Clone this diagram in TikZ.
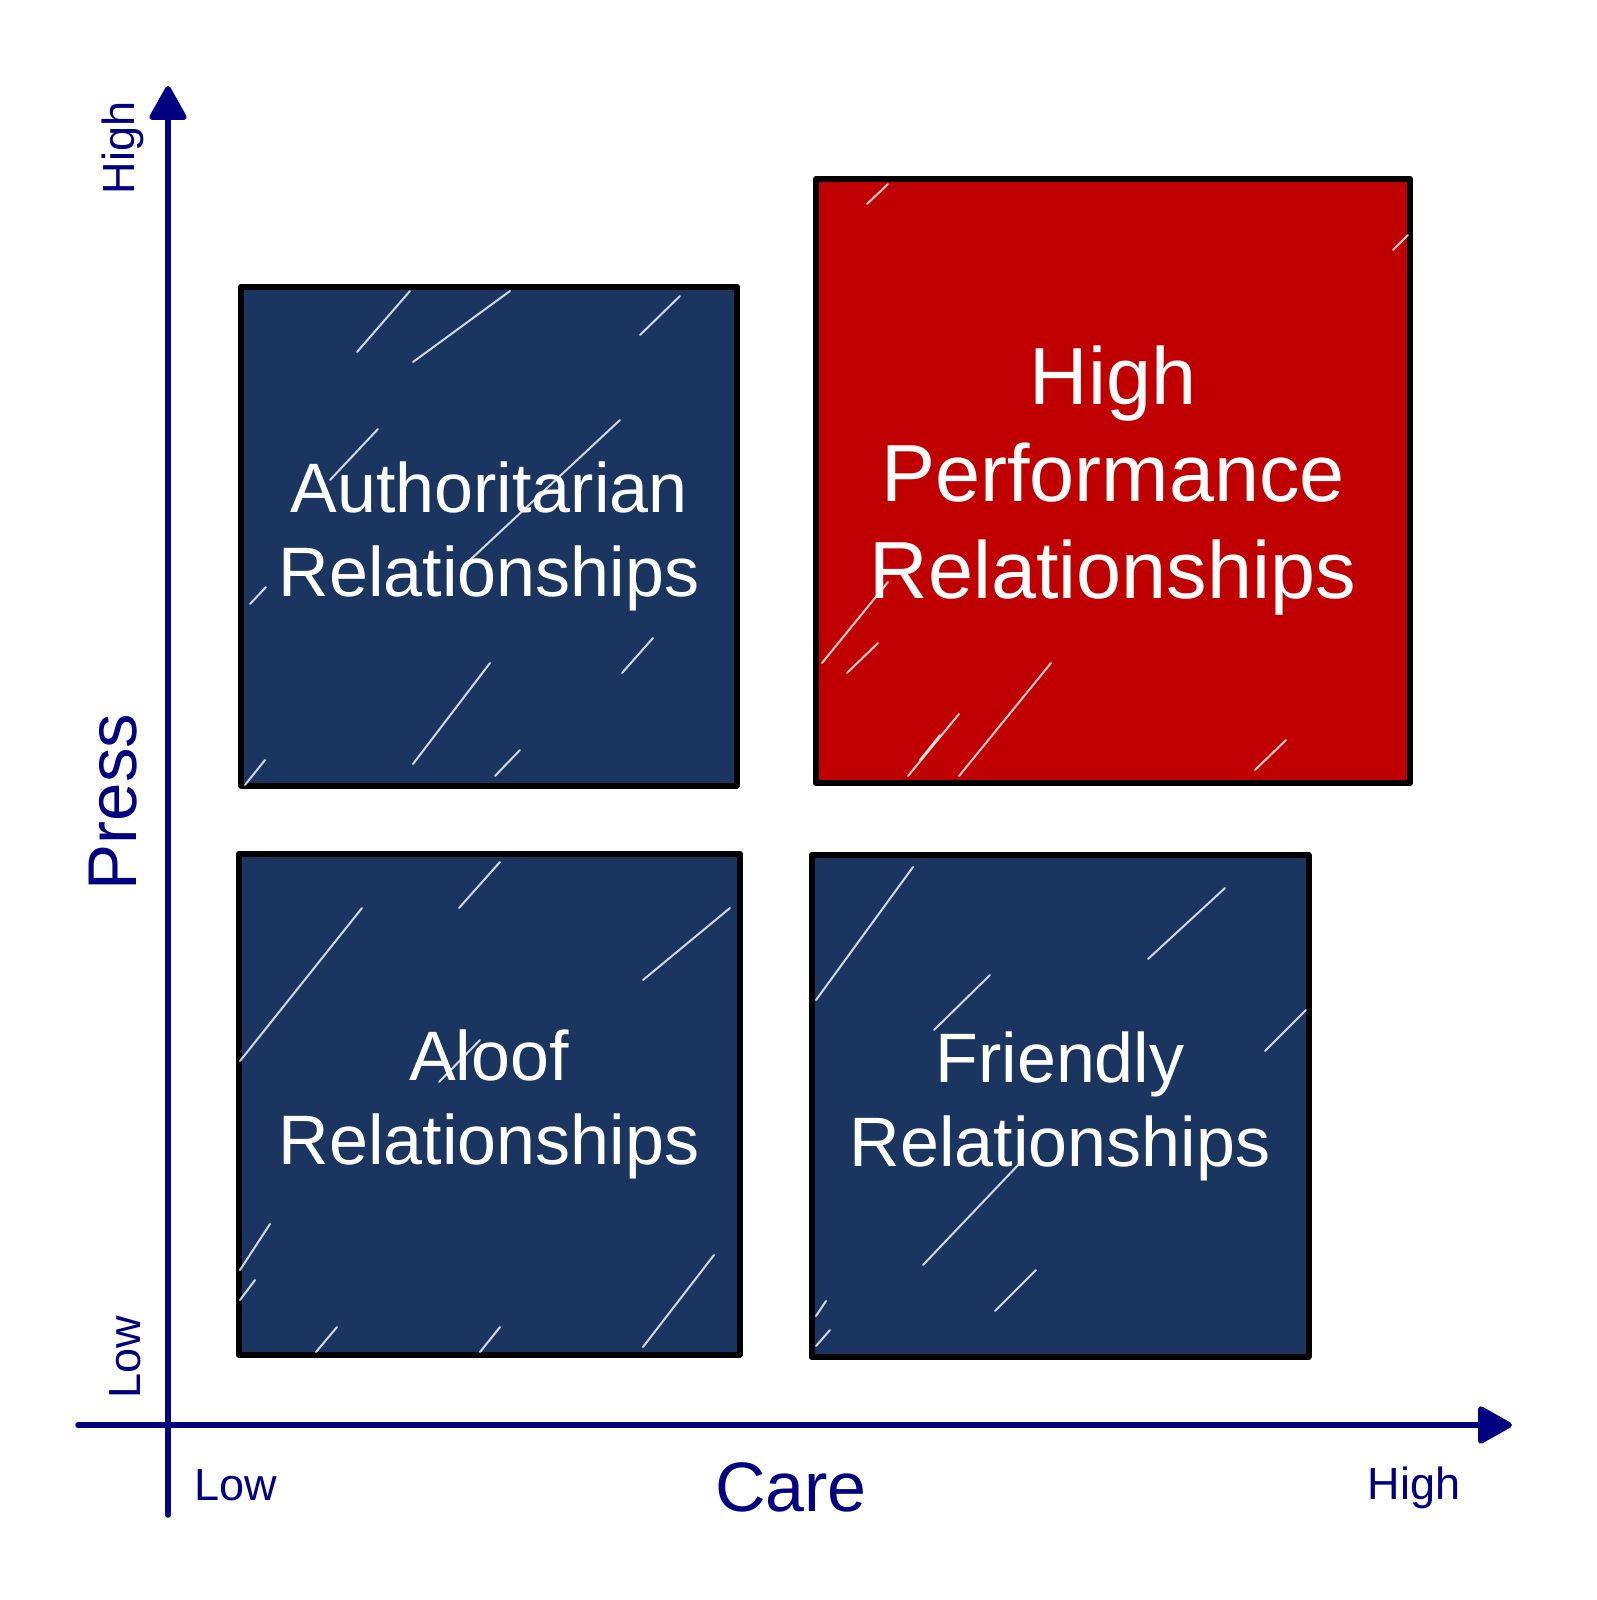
\documentclass[tikz,border=0pt]{standalone}
\usepackage{fontspec}
\setmainfont{Liberation Sans}
\usetikzlibrary{arrows.meta, positioning, calc}
\definecolor{axisnavy}{RGB}{0,0,128}
\definecolor{quadblue}{RGB}{26,54,96}
\definecolor{quadred}{RGB}{192,0,0}
\newcommand{\boxfont}{\fontsize{70}{84}\selectfont}
\newcommand{\bigboxfont}{\fontsize{81}{97}\selectfont}

\begin{document}
\begin{tikzpicture}[x=1pt, y=-1pt,
  quadrant/.style={draw=black, line width=6pt, line join=round, text=white, align=center, inner sep=0pt},
  axis/.style={draw=axisnavy, line width=5.5pt, line cap=round, -{Triangle[length=37pt, width=40pt, round]}},
  axislabel/.style={text=axisnavy, inner sep=0pt}]
\useasboundingbox (0,0) rectangle (1597,1600);

% the four quadrants
\node[quadrant, fill=quadblue, font=\boxfont, minimum width=496pt, minimum height=499pt] (auth) at (489,536)
     {Authoritarian\\Relationships};
\node[quadrant, fill=quadred, font=\bigboxfont, minimum width=594pt, minimum height=604pt] (perf) at (1113,481)
     {High\\Performance\\Relationships};
\node[quadrant, fill=quadblue, font=\boxfont, minimum width=501pt, minimum height=501pt] (aloof) at (489,1104)
     {Aloof\\Relationships};
\node[quadrant, fill=quadblue, font=\boxfont, minimum width=497pt, minimum height=502pt] (friendly) at (1060,1106)
     {Friendly\\Relationships};

% chalk scratches
\foreach \xa/\ya/\xb/\yb in {413/362/510/291, 357/352/410/291, 640/335/680/296, 250/604/266/587,
    245/785/265/760, 413/764/490/663, 495/776/520/750, 622/673/653/638, 330/480/378/429, 470/560/620/420}
  \draw[white, line width=2pt, line cap=round, opacity=0.8] (\xa,\ya) -- (\xb,\yb);
\foreach \xa/\ya/\xb/\yb in {822/663/888/582, 847/673/878/643, 959/776/1051/663, 908/776/959/714,
    1255/770/1286/740, 867/204/888/184, 1393/250/1408/235, 920/760/940/735}
  \draw[white, line width=2pt, line cap=round, opacity=0.8] (\xa,\ya) -- (\xb,\yb);
\foreach \xa/\ya/\xb/\yb in {240/1061/362/908, 459/908/500/862, 643/980/730/908, 240/1270/270/1224,
    316/1352/337/1327, 480/1352/500/1327, 643/1347/714/1255, 439/1082/480/1040, 240/1300/255/1280}
  \draw[white, line width=2pt, line cap=round, opacity=0.8] (\xa,\ya) -- (\xb,\yb);
\foreach \xa/\ya/\xb/\yb in {816/1000/913/867, 1148/959/1225/888, 923/1265/1020/1163, 995/1311/1036/1270,
    816/1316/826/1301, 1265/1051/1306/1010, 934/1030/990/975, 816/1346/830/1330}
  \draw[white, line width=2pt, line cap=round, opacity=0.8] (\xa,\ya) -- (\xb,\yb);

% axes
\coordinate (ybot) at (168,1515);
\coordinate (ytop) at (168,86);
\coordinate (xleft) at (78,1425);
\coordinate (xright) at (1512,1425);
\draw[axis] (ybot) -- (ytop);
\draw[axis] (xleft) -- (xright);

% axis labels
\node[axislabel, rotate=90, font=\fontsize{69}{80}\selectfont] (press) at (113,802) {Press};
\node[axislabel, font=\fontsize{70}{80}\selectfont] (care) at (791,1487) {Care};
\node[axislabel, rotate=90, font=\fontsize{45}{54}\selectfont] (yhigh) at (123,148) {High};
\node[axislabel, rotate=90, font=\fontsize{45}{54}\selectfont] (ylow) at (125,1357) {Low};
\node[axislabel, font=\fontsize{45}{54}\selectfont] (xlow) at (236,1485) {Low};
\node[axislabel, font=\fontsize{45}{54}\selectfont] (xhigh) at (1414,1488) {High};
\end{tikzpicture}
\end{document}
